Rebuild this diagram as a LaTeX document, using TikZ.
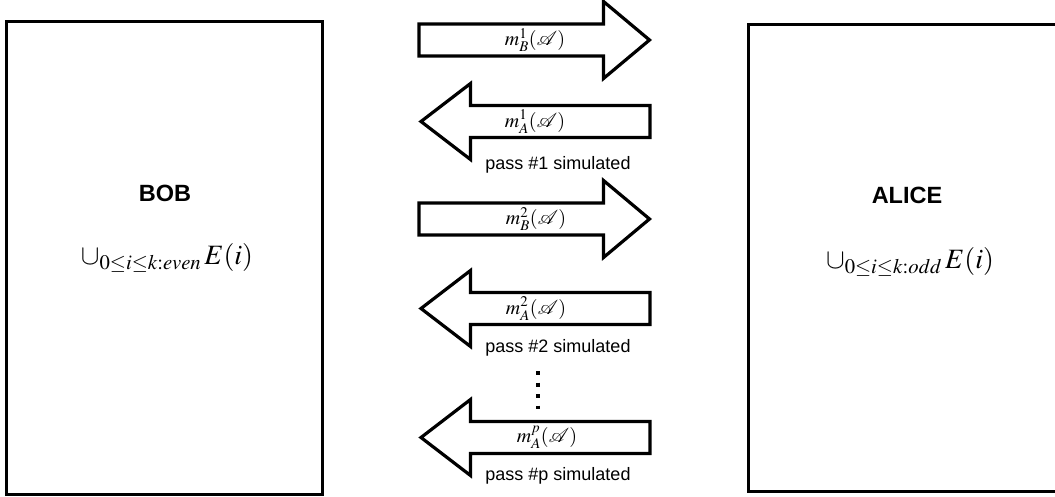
\documentclass[tikz,border=0pt]{standalone}
\usepackage{mathptmx}
\usepackage[no-math]{fontspec}
\newfontfamily\hel{Liberation Sans}
\begin{document}
\begin{tikzpicture}[x=1pt,y=-1pt,
  party/.style={draw=black,line width=2.7pt,rectangle,inner sep=0pt},
  arrowline/.style={draw=black,fill=white,line width=3.2pt,line join=miter},
  who/.style={font=\hel\bfseries\fontsize{23.5}{25}\selectfont,inner sep=0pt},
  setexpr/.style={font=\fontsize{28}{30}\selectfont,inner sep=0pt},
  msg/.style={font=\fontsize{20}{22}\selectfont,inner sep=0pt},
  passlbl/.style={font=\hel\fontsize{18}{19}\selectfont,inner sep=0pt},
  rarr/.pic={\path[arrowline] (419,-16) -- (603.5,-16) -- (603.5,-38.5) -- (649.5,0) -- (603.5,38.5) -- (603.5,16) -- (419,16) -- cycle;},
  larr/.pic={\path[arrowline] (650,-16) -- (470.5,-16) -- (470.5,-38) -- (421,0) -- (470.5,38) -- (470.5,16) -- (650,16) -- cycle;}
]
\useasboundingbox (0,0) rectangle (1055,497);
% parties
\node[party,minimum width=316.3pt,minimum height=473.4pt] (bob) at (164.35,258) {};
\node[party,minimum width=312pt,minimum height=467.5pt] (alice) at (904.3,257.95) {};
\node[who] (bobname) at (165,193.5) {BOB};
\node[setexpr] (bobset) at (167,258) {$\cup_{0\le i\le k:even}\,E(i)$};
\node[who] (alicename) at (907,195) {ALICE};
\node[setexpr] (aliceset) at (910,262) {$\cup_{0\le i\le k:odd}\,E(i)$};
% messages
\pic at (0,40) {rarr};
\node[msg] (m1) at (535,40) {$m^1_B(\mathcal{A})$};
\pic at (0,121.5) {larr};
\node[msg] (m2) at (535,121.5) {$m^1_A(\mathcal{A})$};
\node[passlbl] (p1) at (558,165) {pass \#1 simulated};
\pic at (0,219) {rarr};
\node[msg] (m3) at (536,219) {$m^2_B(\mathcal{A})$};
\pic at (0,308.5) {larr};
\node[msg] (m4) at (536,308.5) {$m^2_A(\mathcal{A})$};
\node[passlbl] (p2) at (558,348) {pass \#2 simulated};
\coordinate (dtop) at (538,371);
\coordinate (dbot) at (538,409);
\draw[line width=4pt,dash pattern=on 4pt off 7.5pt] (dtop) -- (dbot);
\pic at (0,437.5) {larr};
\node[msg] (m5) at (547,437.5) {$m^p_A(\mathcal{A})$};
\node[passlbl] (p3) at (558,475.5) {pass \#p simulated};
\end{tikzpicture}
\end{document}
